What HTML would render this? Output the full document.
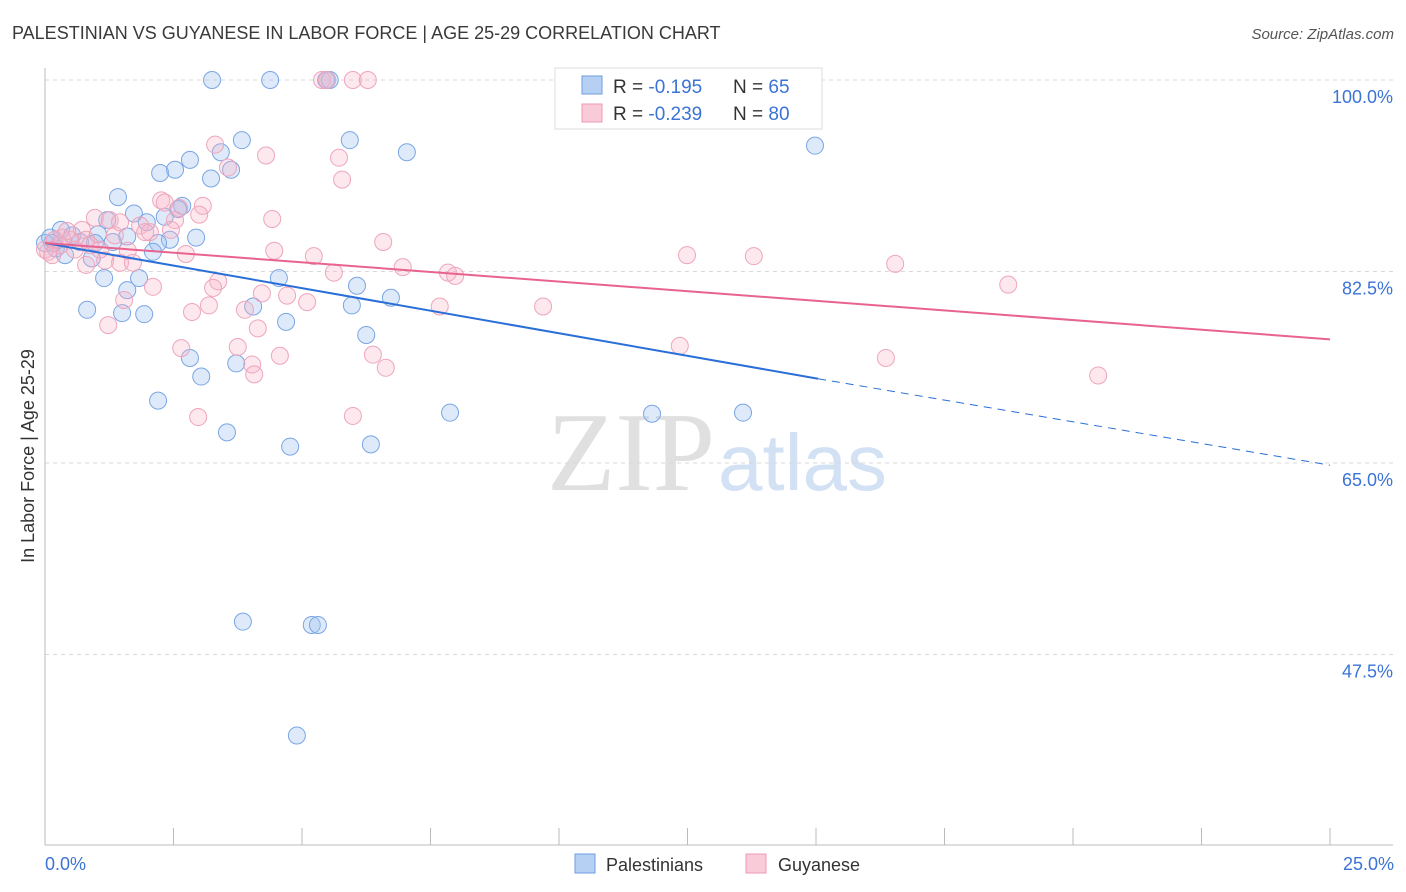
<!DOCTYPE html>
<html><head><meta charset="utf-8"><style>
body{margin:0;background:#fff;font-family:"Liberation Sans",sans-serif}
svg{display:block}
</style></head><body>
<svg id="chart" width="1406" height="892">
<text x="12" y="39" font-size="18" fill="#3a3a3a">PALESTINIAN VS GUYANESE IN LABOR FORCE | AGE 25-29 CORRELATION CHART</text>
<text x="1394" y="39" font-size="15" fill="#555" text-anchor="end" font-style="italic">Source: ZipAtlas.com</text>
<text x="715" y="490" font-size="112" fill="#e0e0e0" text-anchor="end" font-family="Liberation Serif,serif">ZIP</text>
<text x="718" y="490" font-size="80" fill="#d3e1f4">atlas</text>
<g id="grid"></g><g id="axes"></g><g id="pts"></g><g id="lines"></g>
<text transform="translate(34,456) rotate(-90)" font-size="18" fill="#333" text-anchor="middle">In Labor Force | Age 25-29</text>
<text x="45" y="870" font-size="18" fill="#3b73d6">0.0%</text>
<text x="1394" y="870" font-size="18" fill="#3b73d6" text-anchor="end">25.0%</text>
<g>
<rect x="555" y="68" width="267" height="61" fill="#fff" stroke="#ddd"/>
<rect x="582" y="76" width="20" height="18" fill="#b6d0f3" stroke="#6f9ee0"/>
<rect x="582" y="104" width="20" height="18" fill="#f9cad8" stroke="#ee9ab6"/>
<text x="613" y="93" font-size="19" fill="#333">R = <tspan fill="#3b73d6">-0.195</tspan><tspan x="733">N = </tspan><tspan fill="#3b73d6">65</tspan></text>
<text x="613" y="120" font-size="19" fill="#333">R = <tspan fill="#3b73d6">-0.239</tspan><tspan x="733">N = </tspan><tspan fill="#3b73d6">80</tspan></text>
</g>
<g>
<rect x="575" y="854" width="20" height="19" fill="#b6d0f3" stroke="#6f9ee0"/>
<text x="606" y="871" font-size="18" fill="#333">Palestinians</text>
<rect x="746" y="854" width="20" height="19" fill="#f9cad8" stroke="#ee9ab6"/>
<text x="778" y="871" font-size="18" fill="#333">Guyanese</text>
</g>
</svg>
<script>
const yTicks=[100,82.5,65,47.5];
const yTickLabels=["100.0%","82.5%","65.0%","47.5%"];
const blueX=[3.25,4.38,5.47,5.54,3.83,5.93,7.04,14.98,3.42,2.82,2.24,2.53,3.23,3.62,1.42,2.67,2.59,1.73,2.33,1.98,1.21,0.31,0.53,1.03,1.60,2.94,2.43,2.20,1.32,0.97,0.14,0.21,0.39,0.91,2.10,1.83,1.15,4.55,6.07,1.60,6.73,0.82,1.50,1.93,4.05,5.97,4.69,6.25,2.82,3.72,3.04,2.20,7.88,11.81,13.58,3.54,4.77,6.34,3.85,5.19,5.31,4.90,0,0.1,0.68];
const blueY=[100,100,100,100,94.5,94.5,93.4,94.0,93.4,92.7,91.5,91.8,91.0,91.8,89.3,88.5,88.2,87.8,87.5,87.0,87.2,86.3,85.8,85.9,85.7,85.6,85.4,85.1,85.2,85.1,85.1,84.6,84.0,83.7,84.3,81.9,81.9,81.9,81.2,80.8,80.1,79.0,78.7,78.6,79.3,79.4,77.9,76.7,74.6,74.1,72.9,70.7,69.6,69.5,69.6,67.8,66.5,66.7,50.5,50.2,50.2,40.1,85.1,85.6,85.2];
const pinkX=[5.39,5.49,5.99,6.28,3.31,4.30,5.72,3.56,5.78,2.26,2.33,3.07,2.61,0.97,1.26,4.42,3.00,2.53,1.85,0.72,1.36,2.04,2.45,6.58,0.80,0.29,4.46,1.61,2.74,5.23,12.49,13.79,1.17,1.46,1.71,6.96,7.84,7.98,5.62,0.80,16.54,3.37,3.27,2.10,4.22,4.71,5.10,7.68,9.69,18.74,1.54,3.19,2.86,3.89,1.23,4.14,2.65,3.75,12.35,6.38,4.57,16.36,4.03,4.07,6.63,20.49,2.98,5.99,0.06,0.19,0.49,0.58,0.88,1.07,0.33,0.43,1.46,1.95,0,0.14];
const pinkY=[100,100,100,100,94.1,93.1,92.9,92.0,90.9,89.0,88.8,88.5,88.3,87.4,87.2,87.3,87.7,87.2,86.7,86.3,85.8,86.1,86.3,85.2,85.4,84.9,84.4,84.4,84.1,83.9,84.0,83.9,83.5,83.3,83.3,82.9,82.4,82.1,82.4,83.1,83.2,81.6,81.0,81.1,80.5,80.3,79.7,79.3,79.3,81.3,79.9,79.4,78.8,79.0,77.6,77.3,75.5,75.6,75.7,74.9,74.8,74.6,74.0,73.1,73.7,73.0,69.2,69.3,84.3,85.4,85.4,84.5,84.9,84.5,85.6,86.2,87.0,86.1,84.5,84.0];
const blueTrend=[85.1,72.7,64.8]; // values at x=0, 15.04, 25
const pinkTrend=[85.1,76.3]; // values at x=0, 25
const blueSolidEnd=15.04;
const NS='http://www.w3.org/2000/svg';
const X=v=>45+v*(1285/25);
const Y=v=>80+(100-v)*(191.5/17.5);
function mk(p,t,a){const e=document.createElementNS(NS,t);for(const k in a)e.setAttribute(k,a[k]);document.getElementById(p).appendChild(e);return e;}
yTicks.forEach((t,i)=>{
 const l=mk('grid','line',{x1:45,x2:1393,y1:Y(t),y2:Y(t),stroke:'#d8d8d8','stroke-dasharray':'4,4'});
 
 
 const tx=mk('grid','text',{x:1393,y:Y(t)+23,'font-size':18,fill:'#3b73d6','text-anchor':'end'});
 tx.textContent=yTickLabels[i];
 
 
});
let a=mk('axes','line',{x1:45,x2:1393,y1:845,y2:845,stroke:'#bbb'});


a=mk('axes','line',{x1:45,x2:45,y1:68,y2:845,stroke:'#bbb'});


for(let i=0;i<=10;i++){const v=i*2.5;
 const t=mk('axes','line',{x1:X(v),x2:X(v),y1:828,y2:845,stroke:'#bbb'});
 
 }
blueX.forEach((x,i)=>{const c=mk('pts','circle',{cx:X(x),cy:Y(blueY[i]),r:8.5,fill:'rgba(160,195,240,0.35)',stroke:'#7aa6e3','stroke-width':1});
 
 });
pinkX.forEach((x,i)=>{const c=mk('pts','circle',{cx:X(x),cy:Y(pinkY[i]),r:8.5,fill:'rgba(248,180,200,0.3)',stroke:'#eea5bd','stroke-width':1});
 
 });
let ln=mk('lines','line',{x1:X(0),y1:Y(blueTrend[0]),x2:X(blueSolidEnd),y2:Y(blueTrend[1]),stroke:'#2a6fd8','stroke-width':2});


ln=mk('lines','line',{x1:X(blueSolidEnd),y1:Y(blueTrend[1]),x2:X(25),y2:Y(blueTrend[2]),stroke:'#2a6fd8','stroke-width':1,'stroke-dasharray':'8,6'});


ln=mk('lines','line',{x1:X(0),y1:Y(pinkTrend[0]),x2:X(25),y2:Y(pinkTrend[1]),stroke:'#e8638f','stroke-width':2});


</script>
</body></html>
